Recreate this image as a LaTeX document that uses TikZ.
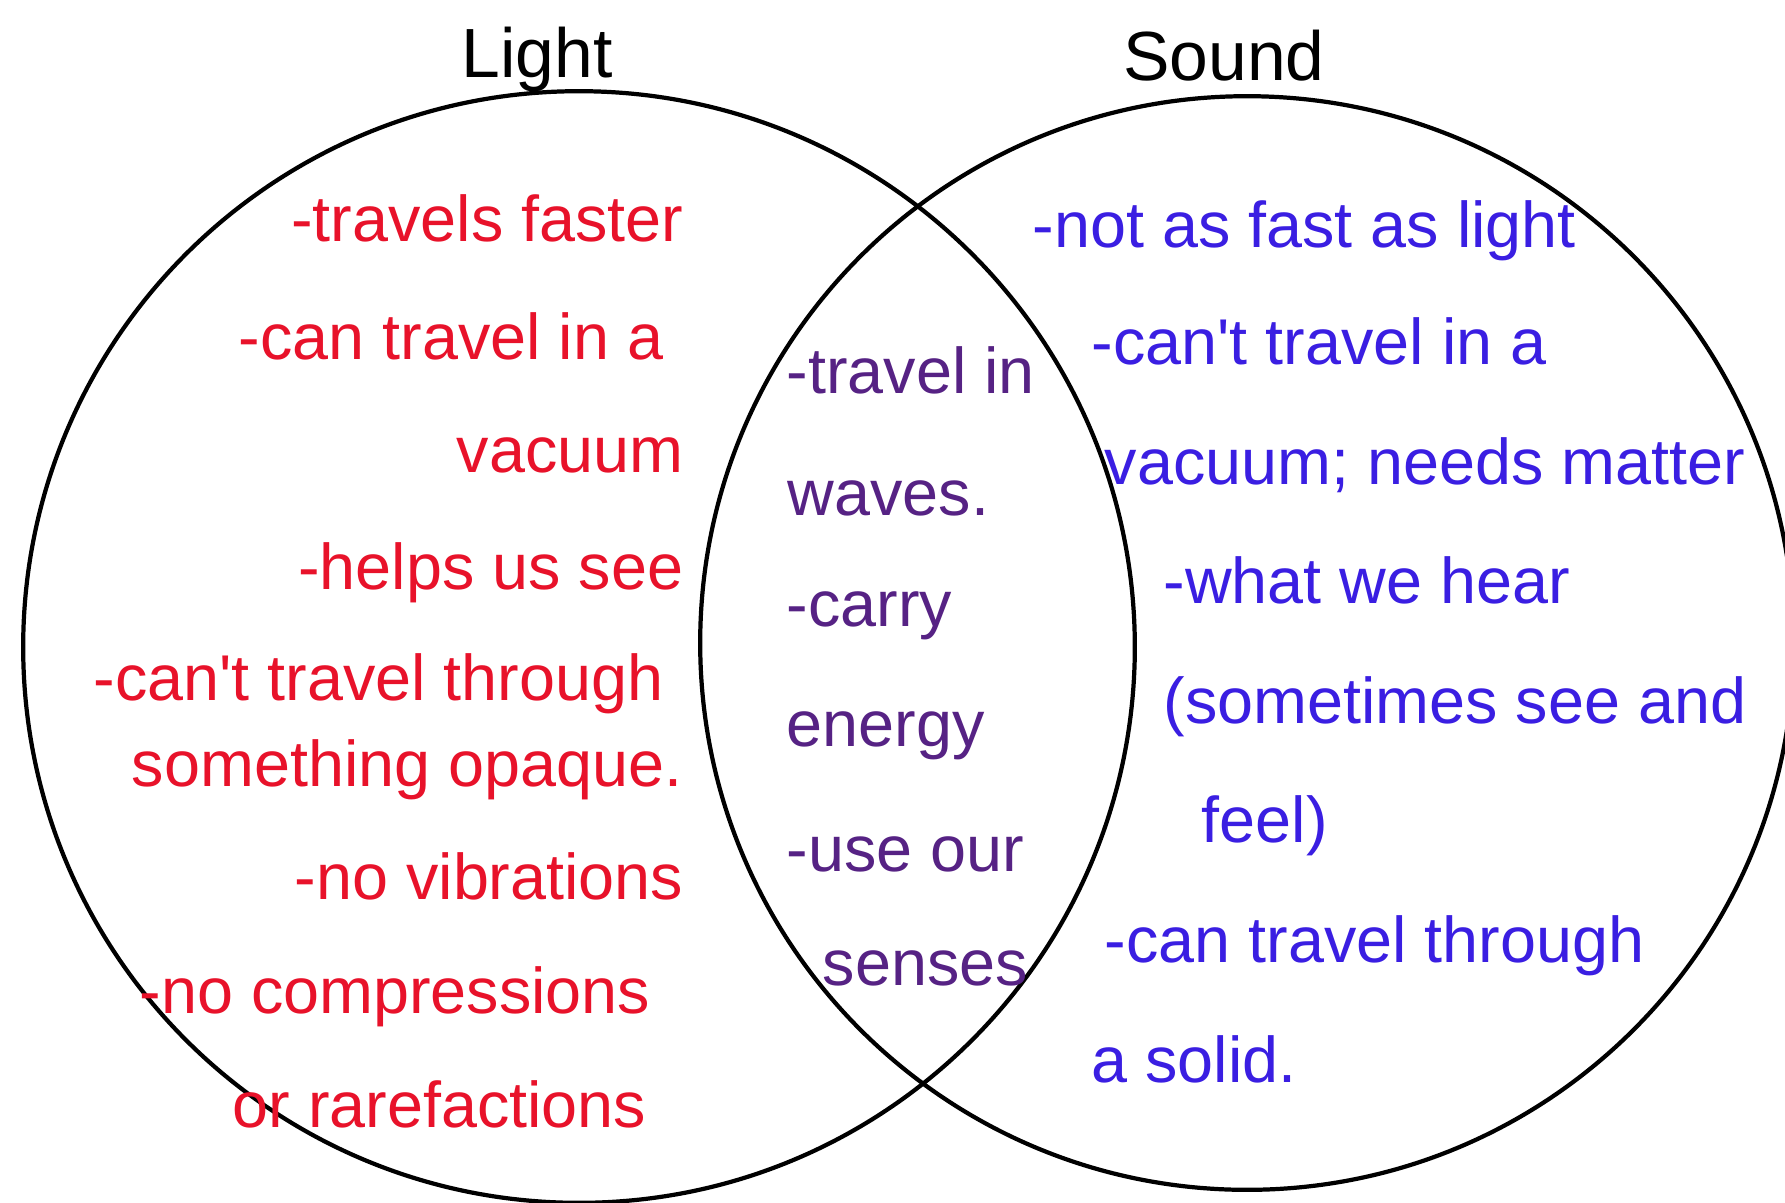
\documentclass[tikz,border=0pt]{standalone}
\usepackage{fontspec}
\setmainfont{Liberation Sans}[Ligatures=TeXOff]
\usepackage{tikz}
\usetikzlibrary{positioning}

\definecolor{lightred}{RGB}{232,18,42}
\definecolor{soundblue}{RGB}{58,30,226}
\definecolor{bothpurple}{RGB}{86,34,132}

\begin{document}
\begin{tikzpicture}[
    x=0.01cm, y=-0.01cm,
    setcircle/.style={draw, circle, line width=1.2pt, inner sep=0pt},
    title/.style={font=\fontsize{19.8}{24}\selectfont, inner sep=0pt, anchor=base},
    redtxt/.style={text=lightred, font=\fontsize{18.4}{22}\selectfont, inner sep=0pt, anchor=base east},
    midtxt/.style={text=bothpurple, font=\fontsize{18.4}{22}\selectfont, inner sep=0pt, anchor=base west},
    bluetxt/.style={text=soundblue, font=\fontsize{18.4}{22}\selectfont, inner sep=0pt, anchor=base west}
]
\clip (0,0) rectangle (1785,1202);
\fill[white] (0,0) rectangle (1785,1202);

% The two sets
\node[setcircle, minimum size=11.11cm] (lightset) at (579,647) {};
\node[setcircle, minimum size=10.93cm] (soundset) at (1247,643) {};

% Set titles
\node[title] (lighttitle) at (537,77) {Light};
\node[title] (soundtitle) at (1224,80) {Sound};

% Light only
\node[redtxt] (l1) at (684,241) {-travels faster};
\node[redtxt] (l2) at (664,359) {-can travel in a};
\node[redtxt] (l3) at (684,472) {vacuum};
\node[redtxt] (l4) at (684,589) {-helps us see};
\node[redtxt] (l5) at (664,700) {-can't travel through};
\node[redtxt] (l6) at (683,786) {something opaque.};
\node[redtxt] (l7) at (684,899) {-no vibrations};
\node[redtxt] (l8) at (651,1013) {-no compressions};
\node[redtxt] (l9) at (647,1127) {or rarefactions};

% Both
\node[midtxt] (b1) at (786,393) {-travel in};
\node[midtxt] (b2) at (787,515) {waves.};
\node[midtxt] (b3) at (786,626) {-carry};
\node[midtxt] (b4) at (786,746) {energy};
\node[midtxt] (b5) at (786,871) {-use our};
\node[midtxt] (b6) at (822,985) {senses};

% Sound only
\node[bluetxt] (s1) at (1032,247) {-not as fast as light};
\node[bluetxt] (s2) at (1091,364) {-can't travel in a};
\node[bluetxt] (s3) at (1104,484) {vacuum; needs matter};
\node[bluetxt] (s4) at (1163,603) {-what we hear};
\node[bluetxt] (s5) at (1163,723) {(sometimes see and};
\node[bluetxt] (s6) at (1201,842) {feel)};
\node[bluetxt] (s7) at (1104,962) {-can travel through};
\node[bluetxt] (s8) at (1091,1082) {a solid.};
\end{tikzpicture}
\end{document}
